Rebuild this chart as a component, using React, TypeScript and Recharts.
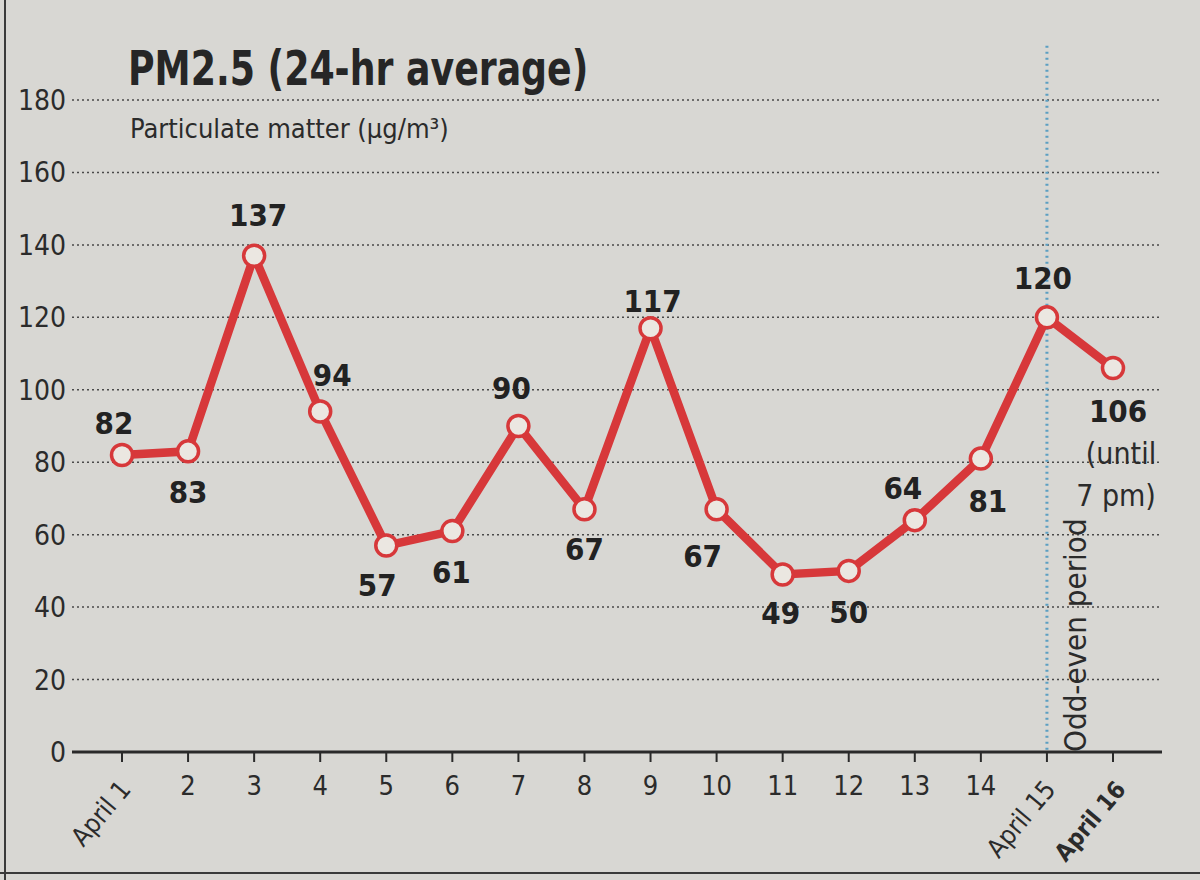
import React from 'react';
import { LineChart, Line, XAxis, YAxis, CartesianGrid, ReferenceLine, LabelList } from 'recharts';

const days = ['April 1', '2', '3', '4', '5', '6', '7', '8', '9', '10', '11', '12', '13', '14', 'April 15', 'April 16'];
const pm25 = [82, 83, 137, 94, 57, 61, 90, 67, 117, 67, 49, 50, 64, 81, 120, 106];
const yTicks = [0, 20, 40, 60, 80, 100, 120, 140, 160, 180];
const oddEvenStart = 'April 15';
const lastNote = ['(until', '7 pm)'];

// label placement (style only): offset of each value label from its point
const labelDx = [-8, 0, 4, 12, -9, -1, -7, 0, 2, -14, -2, 0, -12, 7, -4, 5];
const labelDy = [-32, 41, -41, -37, 39, 41, -38, 40, -27, 47, 38, 41, -32, 42, -39, 43];

const data = days.map((d, i) => ({ day: d, value: pm25[i] }));

const COND = '"Liberation Sans Narrow", "DejaVu Sans Condensed", "Roboto Condensed", sans-serif';
const INK = '#2b2b2b';
const RED = '#d7383a';

const XTick = (props: any) => {
  const { x, y, payload } = props;
  const v: string = payload.value;
  if (v.startsWith('April')) {
    const bold = v === 'April 16';
    const ax = x + (bold ? 14 : 10);
    const ay = y + 26;
    return (
      <text x={ax} y={ay} transform={`rotate(-50, ${ax}, ${ay})`} textAnchor="end"
        fontFamily={COND} fontSize={bold ? 24 : 26} fontWeight={bold ? 700 : 400} fill={INK}>{v}</text>
    );
  }
  return (
    <text x={x} y={y + 31} textAnchor="middle" fontFamily={COND} fontSize={27} fill={INK}>{v}</text>
  );
};

const YTick = (props: any) => {
  const { x, y, payload } = props;
  return (
    <text x={x + 2} y={y + 10} textAnchor="end" fontFamily={COND} fontSize={28} fill={INK}>{payload.value}</text>
  );
};

const ValueLabel = (props: any) => {
  const { x, y, value, index } = props;
  const lx = x + labelDx[index];
  const ly = y + labelDy[index];
  const isLast = index === pm25.length - 1;
  return (
    <g>
      <text x={lx} y={ly + 11} textAnchor="middle" fontFamily={COND} fontSize={31} fontWeight={700} fill="#222">{value}</text>
      {isLast && lastNote.map((t, k) => (
        <text key={k} x={lx + 3 - k * 5} y={ly + 53 + k * 42} textAnchor="middle" fontFamily={COND} fontSize={30} fill={INK}>{t}</text>
      ))}
    </g>
  );
};

const Dot = (props: any) => {
  const { cx, cy } = props;
  return <circle cx={cx} cy={cy} r={10.5} fill="#ebe7e1" stroke={RED} strokeWidth={3.5} />;
};

const OddEvenLabel = (props: any) => {
  const { viewBox } = props;
  const x = viewBox.x + 39;
  const y = 752;
  return (
    <text x={x} y={y} transform={`rotate(-90, ${x}, ${y})`} textAnchor="start" fontFamily={COND} fontSize={31} fill={INK}>Odd-even period</text>
  );
};

export default function App() {
  return (
    <div style={{ position: 'absolute', left: 0, top: 0, width: 1200, height: 880, background: '#d8d7d3', overflow: 'hidden' }}>
      <div style={{ position: 'absolute', left: 4, top: 0, width: 2, height: 880, background: '#3a3a3a' }} />
      <div style={{ position: 'absolute', left: 0, top: 872, width: 1200, height: 2, background: '#3a3a3a' }} />
      <div style={{ position: 'absolute', left: 128, top: 44, fontFamily: COND, fontWeight: 700, fontSize: 48, color: '#262626', lineHeight: 1, transform: 'scaleX(0.84)', transformOrigin: 'left top', whiteSpace: 'nowrap' }}>
        PM2.5 (24-hr average)
      </div>
      <div style={{ position: 'absolute', left: 130, top: 115, fontFamily: COND, fontSize: 27, color: INK, lineHeight: 1, whiteSpace: 'nowrap' }}>
        Particulate matter (µg/m³)
      </div>
      <div style={{ position: 'absolute', left: 0, top: 0 }}>
        <LineChart width={1200} height={880} data={data} margin={{ top: 100, right: 38, bottom: 28, left: 8 }}>
          <CartesianGrid vertical={false} stroke="#4a4a4a" strokeDasharray="2 3" strokeWidth={1.5} />
          <XAxis dataKey="day" type="category" interval={0} height={100} padding={{ left: 50, right: 49 }}
            axisLine={{ stroke: '#2a2a2a', strokeWidth: 3 }} tickLine={{ stroke: '#2a2a2a', strokeWidth: 2 }} tickSize={10}
            tick={<XTick />} />
          <YAxis type="number" domain={[0, 180]} ticks={yTicks} width={64} axisLine={false} tickLine={false} tick={<YTick />} />
          <ReferenceLine segment={[{ x: oddEvenStart, y: 195 }, { x: oddEvenStart, y: 0 }]} ifOverflow="visible"
            stroke="#5b9fc2" strokeWidth={3} strokeDasharray="2 4" label={<OddEvenLabel />} />
          <Line dataKey="value" type="linear" stroke={RED} strokeWidth={8.5} dot={<Dot />} activeDot={false} isAnimationActive={false}>
            <LabelList dataKey="value" content={<ValueLabel />} />
          </Line>
        </LineChart>
      </div>
    </div>
  );
}
